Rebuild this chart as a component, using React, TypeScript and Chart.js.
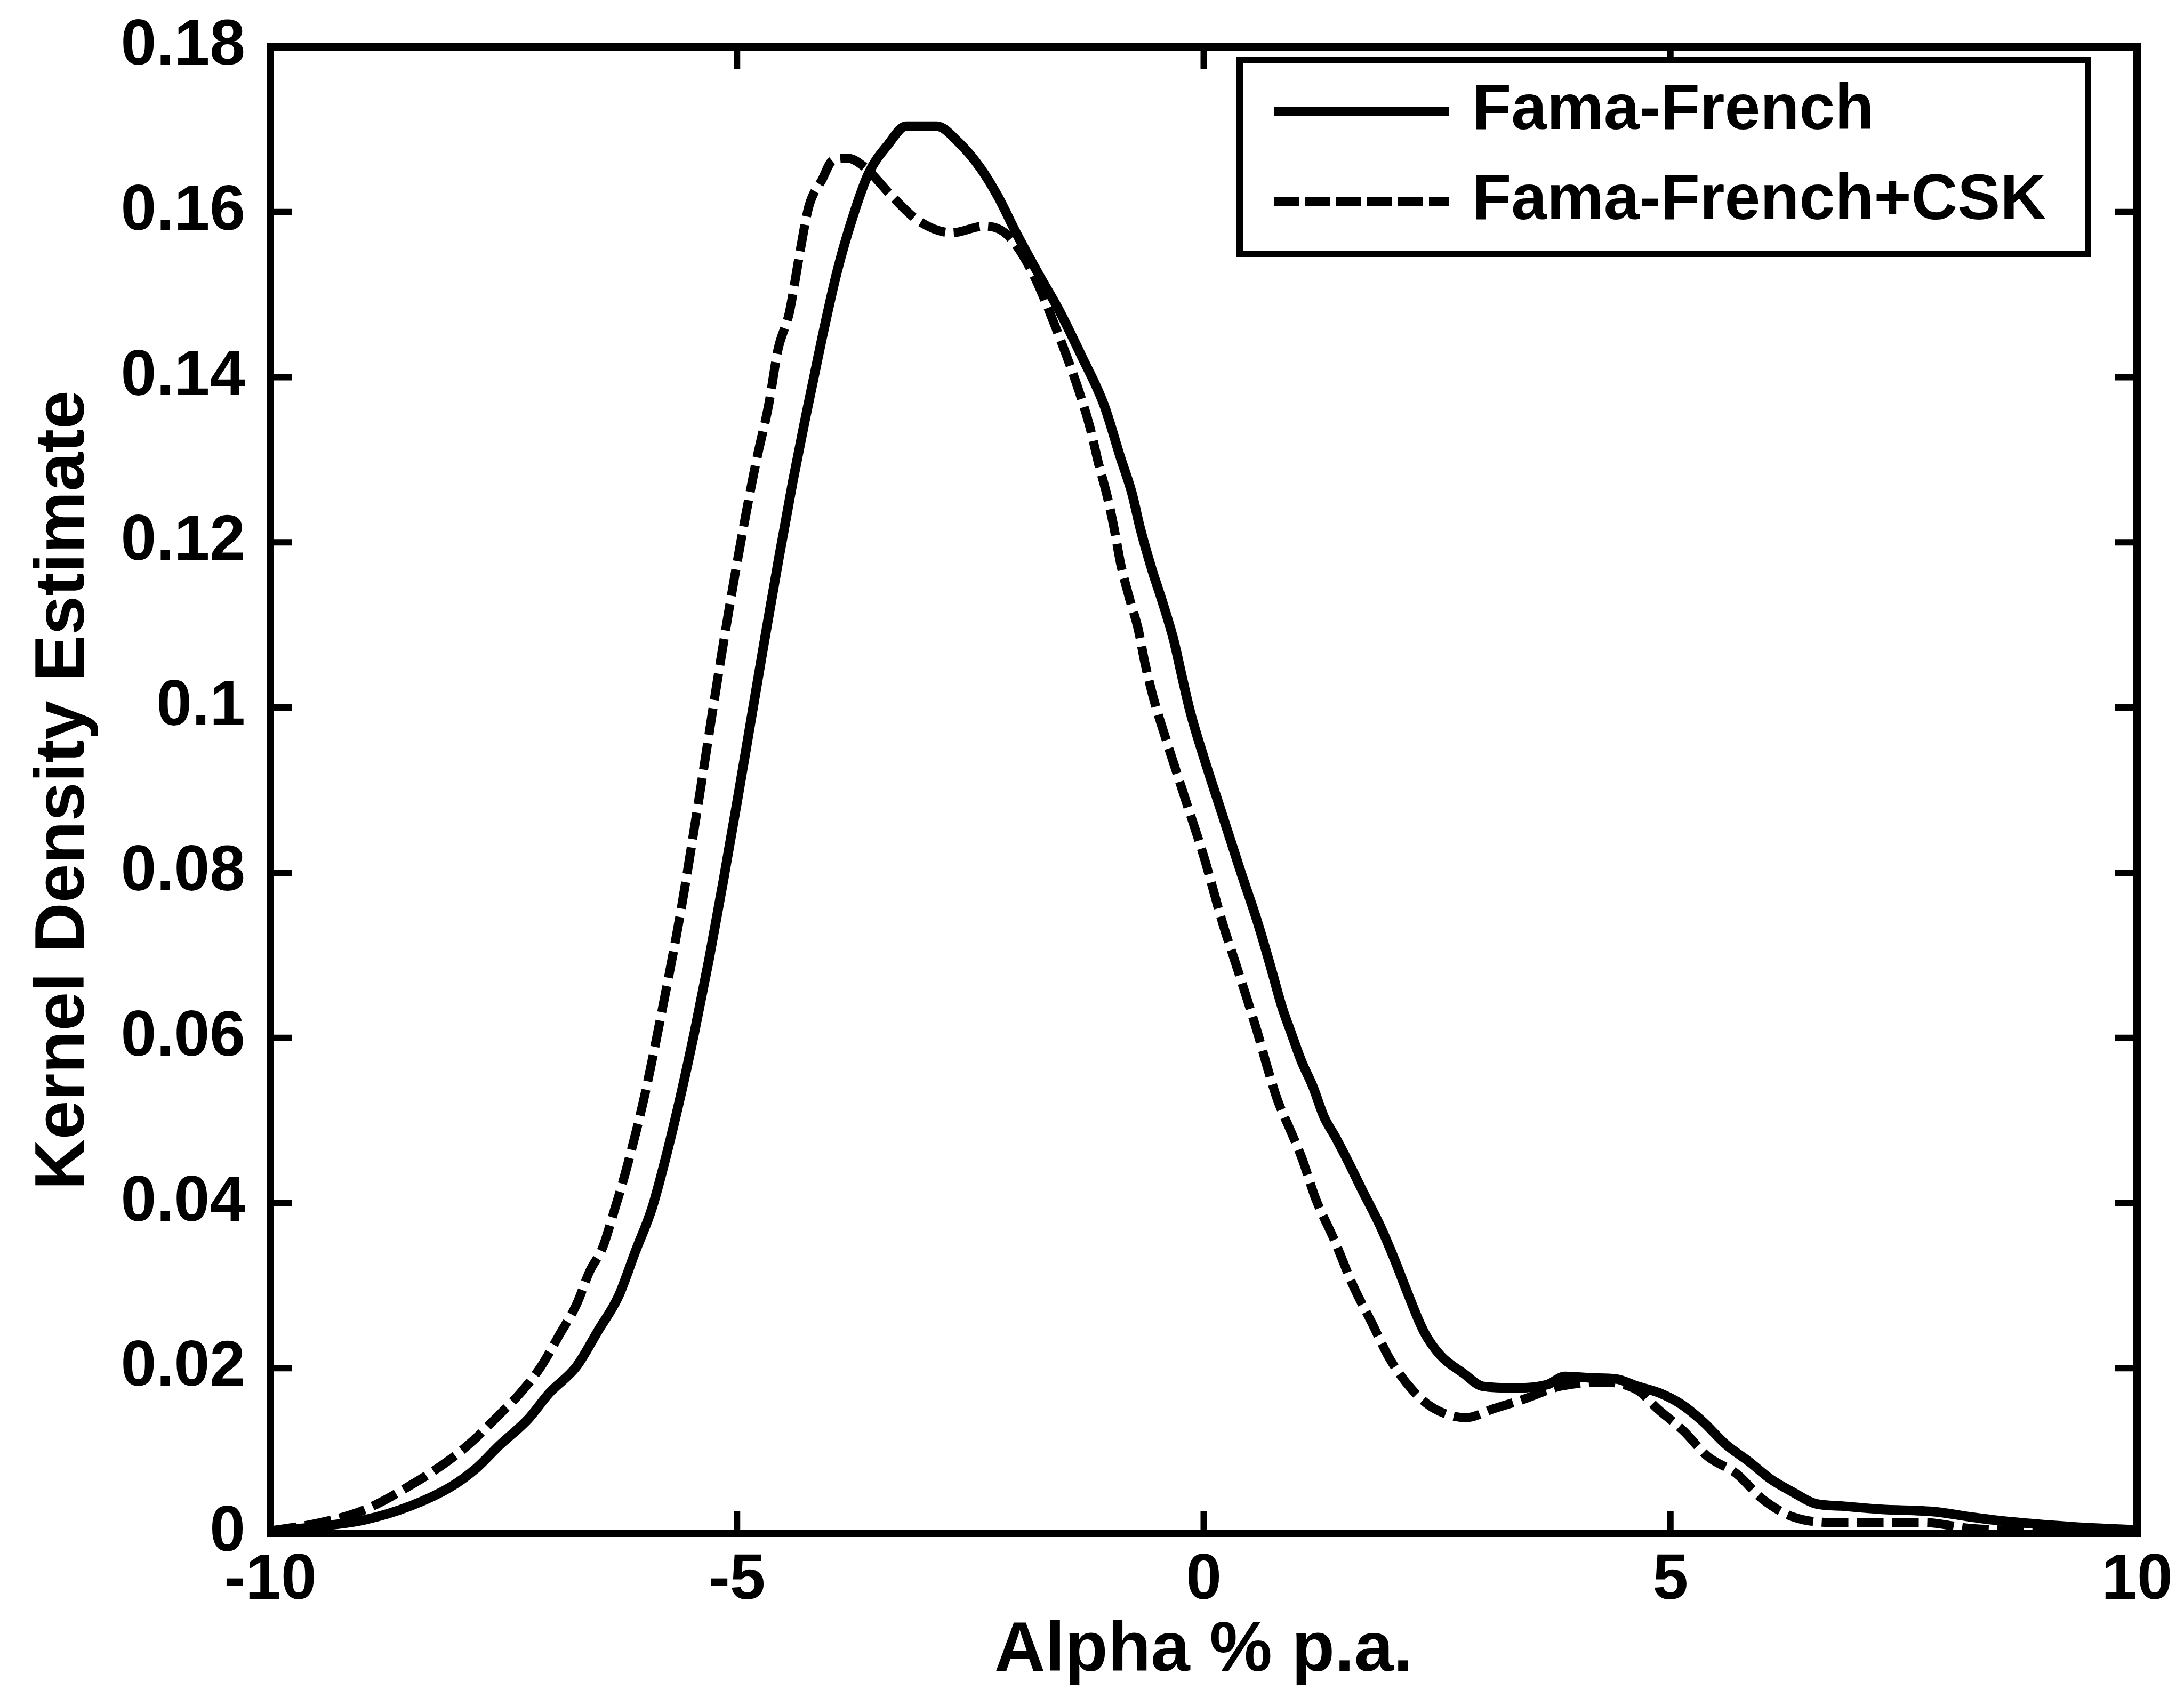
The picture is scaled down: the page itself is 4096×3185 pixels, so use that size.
import React, { useEffect, useRef } from 'react';
import { Chart, registerables } from 'chart.js';

Chart.register(...registerables);

const xTickValues = [-10, -5, 0, 5, 10];
const xTickLabels = ['-10', '-5', '0', '5', '10'];
const yTickValues = [0, 0.02, 0.04, 0.06, 0.08, 0.1, 0.12, 0.14, 0.16, 0.18];
const yTickLabels = ['0', '0.02', '0.04', '0.06', '0.08', '0.1', '0.12', '0.14', '0.16', '0.18'];

const seriesLabels = ['Fama-French', 'Fama-French+CSK'];
const xTitle = 'Alpha % p.a.';
const yTitle = 'Kernel Density Estimate';

// [alpha, density]
const famaFrench: [number, number][] = [
  [-10, 0.0002], [-9.5, 0.0008], [-9, 0.0016], [-8.5, 0.0033], [-8.07, 0.0056],
  [-7.79, 0.0079], [-7.55, 0.0106], [-7.24, 0.0138], [-7.01, 0.017], [-6.72, 0.0202],
  [-6.49, 0.0245], [-6.27, 0.0287], [-6.09, 0.0341], [-5.91, 0.0394], [-5.75, 0.0461],
  [-5.6, 0.0532], [-5.45, 0.061], [-5.3, 0.0695], [-5.15, 0.0788], [-5.0, 0.0885],
  [-4.85, 0.0985], [-4.7, 0.1085], [-4.55, 0.1182], [-4.4, 0.1275], [-4.27, 0.1349],
  [-4.09, 0.1447], [-3.93, 0.1527], [-3.76, 0.1594], [-3.59, 0.1647], [-3.38, 0.1682],
  [-3.19, 0.1704], [-2.86, 0.1704], [-2.63, 0.1685], [-2.39, 0.1653], [-2.2, 0.1618],
  [-2.01, 0.1575], [-1.78, 0.1527], [-1.54, 0.1479], [-1.31, 0.1426], [-1.07, 0.1367],
  [-0.89, 0.1302], [-0.77, 0.126], [-0.68, 0.1217], [-0.56, 0.1169], [-0.44, 0.1127],
  [-0.32, 0.1081], [-0.23, 0.1036], [-0.14, 0.0993], [0, 0.094], [0.2, 0.087],
  [0.4, 0.08], [0.58, 0.0739], [0.72, 0.0685], [0.84, 0.0637], [0.94, 0.0605],
  [1.05, 0.0571], [1.17, 0.0541], [1.29, 0.0504], [1.41, 0.048], [1.53, 0.0454],
  [1.7, 0.0415], [1.9, 0.037], [2.05, 0.033], [2.17, 0.0295], [2.36, 0.0244],
  [2.54, 0.0215], [2.78, 0.0194], [2.99, 0.0178], [3.35, 0.0176], [3.68, 0.018],
  [3.87, 0.019], [4.17, 0.0188], [4.41, 0.0187], [4.65, 0.0178], [4.88, 0.017],
  [5.12, 0.0156], [5.35, 0.0135], [5.59, 0.0108], [5.84, 0.0087], [6.07, 0.0066],
  [6.31, 0.005], [6.55, 0.0036], [6.83, 0.0033], [7.25, 0.0029], [7.84, 0.0026],
  [8.2, 0.002], [8.55, 0.0015], [9.3, 0.0008], [10, 0.0004],
];

const famaFrenchCSK: [number, number][] = [
  [-10, 0.0003], [-9.5, 0.0012], [-9, 0.0028], [-8.5, 0.0058], [-8.09, 0.0088],
  [-7.83, 0.0112], [-7.57, 0.0141], [-7.32, 0.017], [-7.1, 0.0202], [-6.91, 0.0239],
  [-6.72, 0.0277], [-6.58, 0.0317], [-6.44, 0.0346], [-6.32, 0.0389], [-6.2, 0.0435],
  [-6.0, 0.0525], [-5.8, 0.0635], [-5.6, 0.0755], [-5.4, 0.0895], [-5.2, 0.104],
  [-5.0, 0.1175], [-4.8, 0.1295], [-4.66, 0.1367], [-4.56, 0.1434], [-4.44, 0.1478],
  [-4.33, 0.1549], [-4.23, 0.1607], [-4.09, 0.1639], [-3.97, 0.1663], [-3.81, 0.1665],
  [-3.64, 0.1655], [-3.33, 0.1618], [-3.05, 0.1589], [-2.7, 0.1575], [-2.35, 0.1583],
  [-2.11, 0.1573], [-1.85, 0.153], [-1.54, 0.1447], [-1.33, 0.1381], [-1.22, 0.134],
  [-1.13, 0.1297], [-1.03, 0.1254], [-0.96, 0.1217], [-0.89, 0.1174], [-0.8, 0.1134],
  [-0.7, 0.1094], [-0.63, 0.1054], [-0.54, 0.1012], [-0.4, 0.096], [-0.2, 0.089],
  [0, 0.082], [0.2, 0.074], [0.4, 0.067], [0.58, 0.0605], [0.68, 0.0565],
  [0.79, 0.0525], [0.94, 0.0485], [1.05, 0.0455], [1.2, 0.0405], [1.4, 0.0355],
  [1.6, 0.03], [1.8, 0.0255], [2.0, 0.021], [2.24, 0.0173], [2.47, 0.0151],
  [2.81, 0.014], [3.11, 0.0151], [3.42, 0.0162], [3.82, 0.0178], [4.29, 0.0183],
  [4.65, 0.0173], [4.86, 0.0151], [5.14, 0.0124], [5.4, 0.0093], [5.71, 0.0072],
  [5.98, 0.0042], [6.31, 0.002], [6.78, 0.0013], [7.25, 0.0013], [7.73, 0.0013],
  [8.2, 0.0006], [9, 0.0003], [10, 0.0002],
];

const FONT = '"Liberation Sans", Arial, Helvetica, sans-serif';
const CURVE_DASH = [50, 16];
const LEGEND_DASH = [46, 12];

const axesBoxPlugin = {
  id: 'matlabAxesBox',
  afterDatasetsDraw(chart: any) {
    const { ctx, chartArea, scales } = chart;
    const { left, right, top, bottom } = chartArea;
    const tickLen = 41;
    ctx.save();
    ctx.strokeStyle = '#000';
    ctx.setLineDash([]);
    ctx.lineWidth = 12;
    ctx.beginPath();
    scales.x.ticks.forEach((t: any) => {
      const px = scales.x.getPixelForValue(t.value);
      ctx.moveTo(px, bottom);
      ctx.lineTo(px, bottom - tickLen);
      ctx.moveTo(px, top);
      ctx.lineTo(px, top + tickLen);
    });
    scales.y.ticks.forEach((t: any) => {
      const py = scales.y.getPixelForValue(t.value);
      ctx.moveTo(left, py);
      ctx.lineTo(left + tickLen, py);
      ctx.moveTo(right, py);
      ctx.lineTo(right - tickLen, py);
    });
    ctx.stroke();
    ctx.lineWidth = 14;
    ctx.strokeRect(left, top, right - left, bottom - top);
    ctx.restore();
  },
};

const legendPlugin = {
  id: 'matlabLegend',
  afterDraw(chart: any) {
    const { ctx, chartArea } = chart;
    const w = 1591;
    const h = 364;
    const x0 = chartArea.right - 92 - w;
    const y0 = chartArea.top + 25;
    const rows = [96, 265];
    ctx.save();
    ctx.fillStyle = '#fff';
    ctx.fillRect(x0, y0, w, h);
    ctx.strokeStyle = '#000';
    ctx.lineWidth = 12;
    ctx.setLineDash([]);
    ctx.strokeRect(x0, y0, w, h);
    chart.data.datasets.forEach((ds: any, i: number) => {
      const cy = y0 + rows[i];
      ctx.setLineDash(ds.borderDash ? LEGEND_DASH : []);
      ctx.lineWidth = 17;
      ctx.beginPath();
      ctx.moveTo(x0 + 65, cy);
      ctx.lineTo(x0 + 392, cy);
      ctx.stroke();
      ctx.setLineDash([]);
      ctx.font = `bold 120px ${FONT}`;
      ctx.textBaseline = 'middle';
      ctx.textAlign = 'left';
      ctx.fillStyle = '#000';
      ctx.fillText(ds.label, x0 + 436, cy);
    });
    ctx.restore();
  },
};

export default function App() {
  const canvasRef = useRef<HTMLCanvasElement | null>(null);

  useEffect(() => {
    document.body.style.margin = '0';
    document.body.style.overflow = 'hidden';
    const canvas = canvasRef.current;
    if (!canvas) return;
    const chart = new Chart(canvas, {
      type: 'line',
      data: {
        datasets: [
          {
            label: seriesLabels[0],
            data: famaFrench.map(([x, y]) => ({ x, y })),
            borderColor: '#000',
            backgroundColor: '#000',
            borderWidth: 18,
            pointRadius: 0,
            fill: false,
            cubicInterpolationMode: 'monotone',
            borderJoinStyle: 'round',
          },
          {
            label: seriesLabels[1],
            data: famaFrenchCSK.map(([x, y]) => ({ x, y })),
            borderColor: '#000',
            backgroundColor: '#000',
            borderWidth: 17,
            borderDash: CURVE_DASH,
            pointRadius: 0,
            fill: false,
            cubicInterpolationMode: 'monotone',
            borderJoinStyle: 'round',
          },
        ],
      },
      options: {
        responsive: false,
        animation: false,
        events: [],
        devicePixelRatio: 1,
        layout: { padding: { top: 88, right: 88, left: 0, bottom: 0 } },
        plugins: {
          legend: { display: false },
          tooltip: { enabled: false },
          title: { display: false },
        },
        scales: {
          x: {
            type: 'linear',
            min: -10,
            max: 10,
            afterBuildTicks: (s: any) => {
              s.ticks = xTickValues.map((v) => ({ value: v }));
            },
            afterFit: (s: any) => {
              s.height = 309;
              s.paddingLeft = 0;
              s.paddingRight = 0;
            },
            grid: { display: false, drawTicks: false },
            border: { display: false },
            ticks: {
              autoSkip: false,
              maxRotation: 0,
              padding: 18,
              color: '#000',
              font: { family: FONT, size: 120, weight: 'bold' },
              callback: (_v: any, i: number) => xTickLabels[i],
            },
            title: {
              display: true,
              text: xTitle,
              color: '#000',
              font: { family: FONT, size: 132, weight: 'bold' },
              padding: { top: 0, bottom: 8 },
            },
          },
          y: {
            type: 'linear',
            min: 0,
            max: 0.18,
            afterBuildTicks: (s: any) => {
              s.ticks = yTickValues.map((v) => ({ value: v }));
            },
            afterFit: (s: any) => {
              s.width = 507;
              s.paddingTop = 0;
              s.paddingBottom = 0;
            },
            grid: { display: false, drawTicks: false },
            border: { display: false },
            ticks: {
              autoSkip: false,
              padding: 47,
              color: '#000',
              font: { family: FONT, size: 120, weight: 'bold' },
              callback: (_v: any, i: number) => yTickLabels[i],
            },
            title: {
              display: true,
              text: yTitle,
              color: '#000',
              font: { family: FONT, size: 131, weight: 'bold' },
              padding: { top: 42, bottom: 0 },
            },
          },
        },
      } as any,
      plugins: [axesBoxPlugin, legendPlugin],
    });
    return () => {
      chart.destroy();
    };
  }, []);

  return (
    <div style={{ position: 'absolute', left: 0, top: 0, width: 4096, height: 3185, background: '#fff' }}>
      <canvas ref={canvasRef} width={4096} height={3185} style={{ display: 'block' }} />
    </div>
  );
}
